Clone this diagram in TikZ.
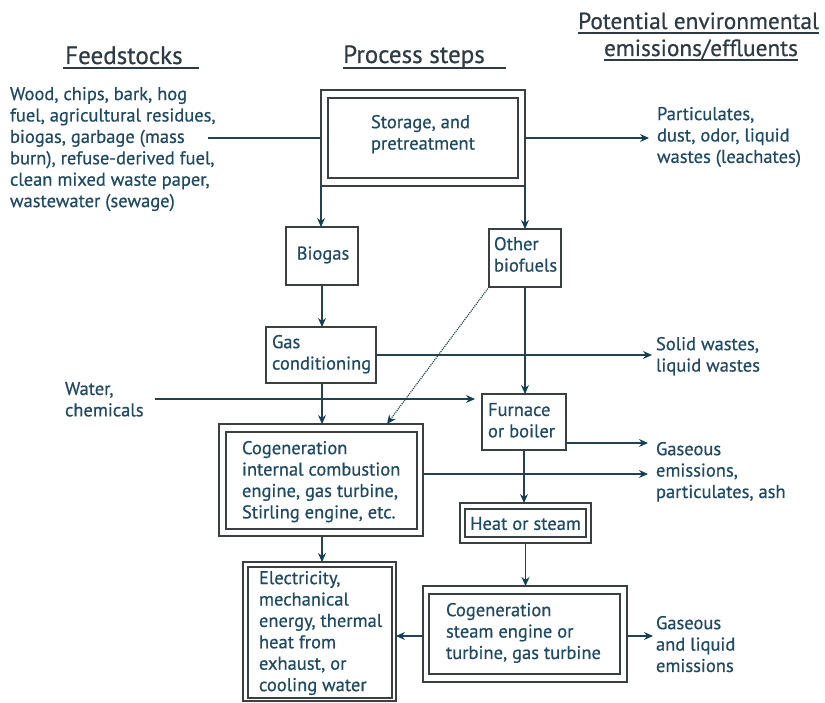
\documentclass[tikz,border=0pt]{standalone}
\usepackage{fontspec}
\setmainfont{PT Sans}
\newfontfamily\labelfont[FakeBold=0.6]{PT Sans}
\usetikzlibrary{arrows.meta}
\definecolor{txt}{HTML}{1F4A62}
\definecolor{head}{HTML}{2E3B44}
\definecolor{edge}{HTML}{3A3F42}
\definecolor{conn}{HTML}{24414F}
\definecolor{tip}{HTML}{123F52}
\tikzset{
  box/.style={draw=edge, line width=1.3pt, fill=none, inner sep=0pt, outer sep=0pt},
  lbl/.style={text=txt, inner sep=0pt, outer sep=0pt, align=left,
              font=\labelfont\fontsize{18.5}{21.4}\selectfont},
  hdr/.style={text=head, inner sep=0pt, font=\labelfont\fontsize{25}{28}\selectfont},
  hdrs/.style={hdr, font=\labelfont\fontsize{23.3}{28}\selectfont},
  link/.style={draw=conn, line width=1.1pt},
  arr/.style={link, -{Stealth[length=9pt,width=8pt,inset=3pt,color=tip]}},
  dotarr/.style={arr, densely dotted, line width=1.2pt},
  uline/.style={draw=head, line width=1.1pt}
}
\begin{document}
\begin{tikzpicture}[x=1pt,y=-1pt]
\useasboundingbox (0,0) rectangle (825,703);

% column headings
\node[hdr, anchor=base west] (hfeed) at (65,64) {Feedstocks};
\node[hdr, anchor=base west] (hproc) at (343,63) {Process steps};
\node[hdrs, anchor=base] (hemisa) at (698.5,29) {Potential environmental};
\node[hdrs, anchor=base] (hemisb) at (701,56) {emissions/effluents};
\draw[uline] (63,68) -- (199,68);
\draw[uline] (343,68) -- (506,68);
\draw[uline] (578,33) -- (819,33);
\draw[uline] (604,60) -- (798,60);

% process boxes
\node[box, minimum width=204pt, minimum height=96pt] (st) at (423,138) {};
\node[box, minimum width=190pt, minimum height=80pt] (stin) at (423,138) {};
\node[box, minimum width=72pt, minimum height=58pt] (bg) at (322,256) {};
\node[box, minimum width=72pt, minimum height=58pt] (ob) at (525,258) {};
\node[box, minimum width=110pt, minimum height=56pt] (gc) at (321,355) {};
\node[box, minimum width=84pt, minimum height=56pt] (fu) at (524,422) {};
\node[box, minimum width=204pt, minimum height=112pt] (cga) at (321,480) {};
\node[box, minimum width=191pt, minimum height=97pt] (cgain) at (321.5,480.5) {};
\node[box, minimum width=131pt, minimum height=40pt] (ht) at (525.5,523) {};
\node[box, minimum width=121pt, minimum height=28pt] (htin) at (525.5,523) {};
\node[box, minimum width=204pt, minimum height=96pt] (cgb) at (525,634) {};
\node[box, minimum width=191pt, minimum height=80pt] (cgbin) at (524.5,634) {};
\node[box, minimum width=153pt, minimum height=139pt] (el) at (319.5,631.5) {};
\node[box, minimum width=144pt, minimum height=131pt] (elin) at (320,632.5) {};

% texts inside boxes
\node[lbl, anchor=north west] (stT) at (371,115) {Storage, and\\pretreatment};
\node[lbl, anchor=center] (bgT) at (323,255) {Biogas};
\node[lbl, anchor=north west] (obT) at (494,237) {Other\\biofuels};
\node[lbl, anchor=north west] (gcT) at (272,335) {Gas\\conditioning};
\node[lbl, anchor=north west] (fuT) at (488,403) {Furnace\\or boiler};
\node[lbl, anchor=north west] (cgaT) at (242,441) {Cogeneration\\internal combustion\\engine, gas turbine,\\Stirling engine, etc.};
\node[lbl, anchor=center] (htT) at (525.5,523.5) {Heat or steam};
\node[lbl, anchor=north west] (cgbT) at (446,603) {Cogeneration\\steam engine or\\turbine, gas turbine};
\node[lbl, anchor=north west] (elT) at (259,571) {Electricity,\\mechanical\\energy, thermal\\heat from\\exhaust, or\\cooling water};

% inputs and outputs
\node[lbl, anchor=north west] (feedT) at (10,87) {Wood, chips, bark, hog\\fuel, agricultural residues,\\biogas, garbage (mass\\burn), refuse-derived fuel,\\clean mixed waste paper,\\wastewater (sewage)};
\node[lbl, anchor=north west] (watT) at (65,382) {Water,\\chemicals};
\node[lbl, anchor=north west] (partT) at (657,107) {Particulates,\\dust, odor, liquid\\wastes (leachates)};
\node[lbl, anchor=north west] (swT) at (656,337) {Solid wastes,\\liquid wastes};
\node[lbl, anchor=north west] (gasaT) at (656,442) {Gaseous\\emissions,\\particulates, ash};
\node[lbl, anchor=north west] (gasbT) at (656,616) {Gaseous\\and liquid\\emissions};

% connectors
\coordinate (feedEnd) at (208,138);
\coordinate (watEnd) at (155,399);
\draw[link] (feedEnd) -- (feedEnd -| st.west);
\draw[arr] (st.east) -- ([xshift=-8pt]st.east -| partT.west);
\draw[arr] (st.south west) -- (st.south west |- bg.north);
\draw[arr] (st.south east) -- (st.south east |- ob.north);
\draw[arr] (bg.south) -- (bg.south |- gc.north);
\draw[arr] (gc.east) -- ([xshift=-4pt]gc.east -| swT.west);
\draw[arr] ([xshift=1pt]gc.south) -- ([xshift=1pt]gc.south |- cga.north);
\draw[arr] (watEnd) -- ([xshift=-7pt]watEnd -| fu.west);
\draw[arr] (ob.south) -- (ob.south |- fu.north);
\draw[dotarr] (ob.south west) -- ([xshift=66pt]cga.north);
\draw[arr] ([yshift=7pt]fu.south east) -- ([yshift=7pt,xshift=-8pt]fu.south east -| gasaT.west);
\draw[arr] ([yshift=6pt]cga.east) -- ([yshift=6pt,xshift=-8pt]cga.east -| gasaT.west);
\draw[arr] (fu.south) -- (fu.south |- ht.north);
\draw[arr] (ht.south) -- (ht.south |- cgb.north);
\draw[arr] ([yshift=-2pt]cgb.east) -- ([yshift=-2pt,xshift=-3pt]cgb.east -| gasbT.west);
\draw[arr] ([yshift=-2pt]cgb.west) -- ([yshift=-2pt]cgb.west -| el.east);
\draw[arr] ([xshift=1pt]cga.south) -- ([xshift=1pt]cga.south |- el.north);
\end{tikzpicture}
\end{document}
